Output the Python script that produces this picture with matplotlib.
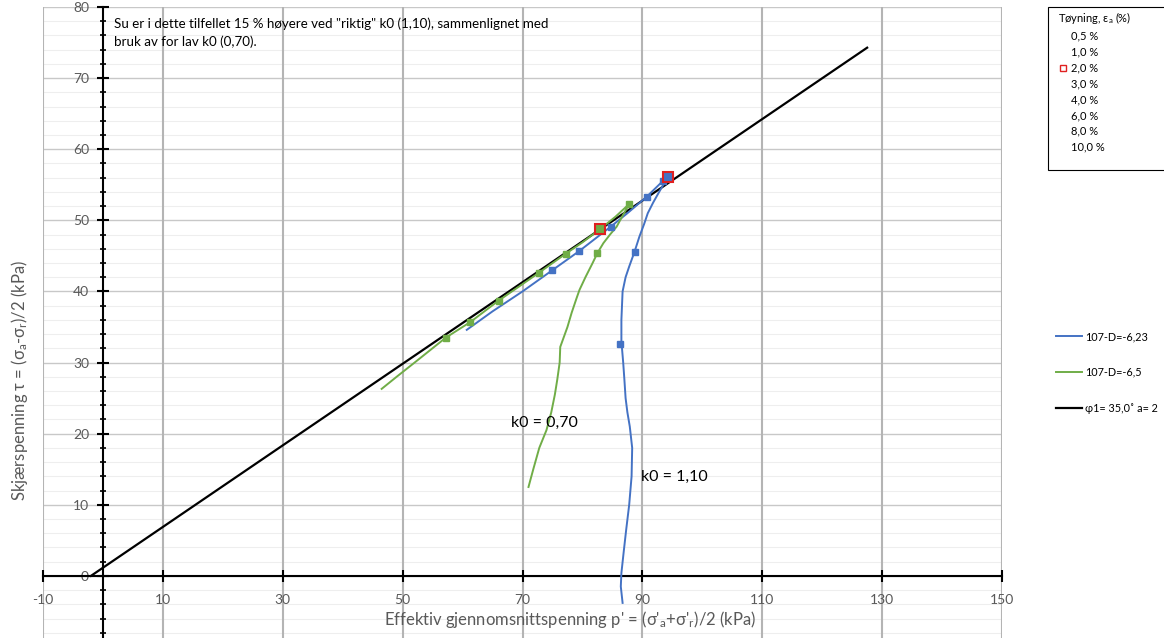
import matplotlib.pyplot as plt
from matplotlib.lines import Line2D
from matplotlib.patches import Rectangle
import numpy as np

plt.rcParams['font.family'] = ['Lato', 'DejaVu Sans']
plt.rcParams['mathtext.fontset'] = 'custom'
plt.rcParams['mathtext.rm'] = 'Lato'
plt.rcParams['mathtext.it'] = 'Lato:italic'
plt.rcParams['axes.unicode_minus'] = False

# Mohr-Coulomb line
PHI = 35.0   # degrees
A_ATTR = 2   # kPa
P_LINE = [-A_ATTR, 127.5]

# Stress path 107-D=-6,23 (k0 = 1,10)
p_blue = [86.7, 86.4, 86.5, 86.9, 87.3, 87.8, 88.2, 88.3, 87.9, 87.5, 87.2, 87.0,
          86.8, 86.5, 86.5, 86.7, 87.2, 87.8, 88.7, 89.5, 90.3, 90.9, 91.8, 92.8,
          93.7, 94.3, 93.5, 90.7, 87.5, 84.7, 79.5, 75.0, 70.0, 65.0, 60.7]
t_blue = [-3.8, -1.5, 0.4, 3.5, 6.5, 10.0, 14.0, 18.0, 21.0, 23.0, 25.0, 27.6,
          30.0, 33.0, 36.0, 40.0, 42.0, 43.5, 45.6, 47.7, 49.5, 51.0, 52.5, 54.0,
          55.3, 56.1, 55.6, 53.3, 51.0, 49.1, 45.7, 43.0, 40.0, 37.2, 34.6]
# points at strain 0,5 / 1 / 2 / 3 / 4 / 6 / 8 / 10 %
pm_blue = [86.3, 88.7, 94.3, 93.5, 90.7, 84.7, 79.5, 75.0]
tm_blue = [32.6, 45.6, 56.1, 55.6, 53.3, 49.1, 45.7, 43.0]

# Stress path 107-D=-6,5 (k0 = 0,70)
p_green = [71.0, 71.8, 72.8, 74.0, 74.8, 75.4, 75.8, 76.2, 76.3, 77.5, 78.2, 79.0,
           79.5, 80.5, 81.7, 82.5, 83.5, 84.6, 85.7, 86.8, 87.8, 85.5, 83.0, 80.0,
           77.2, 72.7, 66.0, 61.3, 57.2, 52.0, 49.0, 46.5]
t_green = [12.5, 15.0, 18.0, 20.5, 23.0, 25.5, 27.6, 30.0, 32.2, 35.0, 37.0, 39.0,
           40.2, 42.0, 44.0, 45.4, 46.8, 48.0, 49.1, 50.8, 52.3, 50.5, 48.8, 46.9,
           45.3, 42.6, 38.7, 35.7, 33.5, 30.0, 28.0, 26.3]
pm_green = [82.5, 87.8, 83.0, 77.2, 72.7, 66.0, 61.3, 57.2]
tm_green = [45.4, 52.3, 48.8, 45.3, 42.6, 38.7, 35.7, 33.5]

strain_labels = ['0,5 %', '1,0 %', '2,0 %', '3,0 %', '4,0 %', '6,0 %', '8,0 %', '10,0 %']
RED_IDX = 2

BLUE = '#4472C4'
GREEN = '#70AD47'
RED = '#E02020'
GRAY_TXT = '#595959'

W, H = 1164, 638
fig = plt.figure(figsize=(W / 100, H / 100), dpi=100)
ax = fig.add_axes([43 / W, (H - 647) / H, (1002 - 43) / W, 640 / H])
ax.set_xlim(-10, 150)
ax.set_ylim(-10, 80)

# grid: light minor rows first, then major rows, then columns on top
for y in np.arange(-10, 81, 2):
    if y % 10 != 0:
        ax.axhline(y, color='#eeeeee', lw=0.8, zorder=0)
for y in np.arange(-10, 81, 10):
    ax.axhline(y, color='#c8c8c8', lw=1.0, zorder=0.5)
for x in np.arange(-10, 151, 20):
    ax.axvline(x, color='#b4b4b4', lw=1.5, zorder=1)

# axes crossing at origin
for s in ['top', 'right']:
    ax.spines[s].set_visible(False)
ax.spines['left'].set_position(('data', 0))
ax.spines['bottom'].set_position(('data', 0))
ax.spines['left'].set_linewidth(1.5)
ax.spines['bottom'].set_linewidth(1.5)
ax.set_xticks(np.arange(-10, 151, 20))
ax.set_yticks(np.arange(0, 81, 10))
ax.set_yticks(np.arange(-10, 81, 2), minor=True)
ax.tick_params(axis='both', which='major', direction='inout', length=8, width=1.5,
               labelsize=10, labelcolor=GRAY_TXT)
ax.tick_params(axis='y', which='minor', direction='inout', length=4, width=1.2)
ax.tick_params(axis='x', which='major', pad=9)
ax.tick_params(axis='y', which='major', pad=6)

# failure line
p_l = np.array(P_LINE)
t_l = (p_l + A_ATTR) * np.sin(np.radians(PHI))
ax.plot(p_l, t_l, color='black', lw=1.6, zorder=3)

# stress paths
ax.plot(p_blue, t_blue, color=BLUE, lw=1.4, zorder=4)
ax.plot(p_green, t_green, color=GREEN, lw=1.4, zorder=4)

for pm, tm, c in [(pm_blue, tm_blue, BLUE), (pm_green, tm_green, GREEN)]:
    for i, (px, ty) in enumerate(zip(pm, tm)):
        if i == RED_IDX:
            ax.plot(px, ty, 's', ms=6.5, mfc=c, mec=RED, mew=1.5, zorder=6)
        else:
            ax.plot(px, ty, 's', ms=5, mfc=c, mec=c, zorder=5)

ax.text(73.7, 21.5, 'k0 = 0,70', fontsize=11.5, ha='center', va='center', zorder=7)
ax.text(89.8, 13.9, 'k0 = 1,10', fontsize=11.5, ha='left', va='center', zorder=7)
ax.text(1.8, 78.5, 'Su er i dette tilfellet 15 % høyere ved "riktig" k0 (1,10), sammenlignet med\n'
        'bruk av for lav k0 (0,70).', fontsize=9.6, ha='left', va='top', linespacing=1.45,
        zorder=7)

# axis titles
fig.text(20 / W, 1 - 380 / H, r'Skjærspenning τ = (σ$_{\rm a}$-σ$_{\rm r}$)/2 (kPa)',
         rotation=90, ha='center', va='center', fontsize=12, color=GRAY_TXT)
fig.text(570 / W, 1 - 620 / H, r"Effektiv gjennomsnittspenning p' = (σ'$_{\rm a}$+σ'$_{\rm r}$)/2 (kPa)",
         ha='center', va='center', fontsize=12, color=GRAY_TXT)

# strain legend box
fig.patches.append(Rectangle((1048 / W, 1 - 170 / H), 0.2, 163 / H, transform=fig.transFigure,
                             facecolor='white', edgecolor='black', lw=0.8))
fig.text(1058 / W, 1 - 18 / H, r'Tøyning, ε$_{\rm a}$ (%)', fontsize=8, va='center', ha='left')
for i, lab in enumerate(strain_labels):
    yy = 1 - (36 + i * 15.9) / H
    fig.text(1071 / W, yy, lab, fontsize=8, va='center', ha='left')
    if i == RED_IDX:
        fig.lines.append(Line2D([1063 / W], [yy], transform=fig.transFigure, marker='s',
                                ms=5, mfc='none', mec=RED, mew=1.0, ls='none'))

# series legend
handles = [Line2D([], [], color=BLUE, lw=1.4),
           Line2D([], [], color=GREEN, lw=1.4),
           Line2D([], [], color='black', lw=1.6)]
labels = ['107-D=-6,23', '107-D=-6,5', f'φ1= {PHI:.1f}˚ a= {A_ATTR}'.replace('.', ',')]
fig.legend(handles, labels, loc='upper left', bbox_to_anchor=(1056 / W, 1 - 331 / H),
           frameon=False, fontsize=7.8, handlelength=2.4, handletextpad=0.25,
           labelspacing=2.3, borderaxespad=0, borderpad=0)

fig.savefig('out.png', dpi=100)
